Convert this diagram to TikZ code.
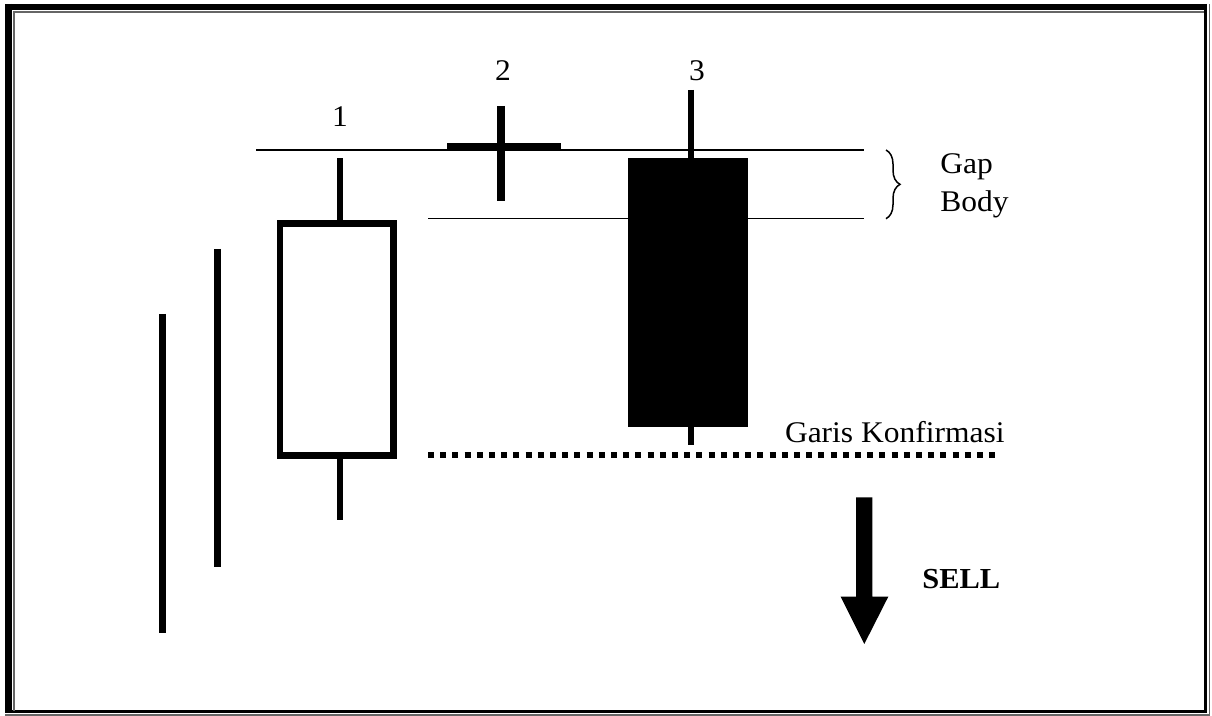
\documentclass[tikz,border=0pt]{standalone}
\usepackage{fontspec}
\setmainfont{Liberation Serif}
\usetikzlibrary{calc,decorations.pathreplacing}

\begin{document}
\begin{tikzpicture}[x=0.5pt,y=-0.5pt,
    txt/.style={inner sep=0pt,xscale=1.05,font=\fontsize{15}{17}\selectfont},
    num/.style={inner sep=0pt,xscale=1.05,font=\fontsize{15}{17}\selectfont},
    wick/.style={line width=3pt},
    guide/.style={line width=0.75pt}]
    \useasboundingbox (0,0) rectangle (1212,716);

    % frame
    \draw[line width=3.5pt] (8.5,4) -- (8.5,713);
    \draw[line width=3pt] (5,7) -- (1207,7);
    \draw[line width=1.5pt] (1205.5,4) -- (1205.5,713);
    \draw[line width=1.5pt] (5,712) -- (1207,712);
    \draw[line width=0.6pt,black!60] (14,711) -- (14,12) -- (1204,12);
    \draw[line width=0.6pt,black!60] (1209.5,4) -- (1209.5,715) -- (5,715);

    % trend
    \coordinate (L1) at (162,314);
    \coordinate (L2) at (217.3,249);
    \draw[line width=3.5pt] (L1) -- ++(0,318.7);
    \draw[line width=3.5pt] (L2) -- ++(0,318.3);

    % gap lines
    \coordinate (T1) at (256,150);
    \coordinate (T2) at (864,150);
    \coordinate (B1) at (428,218.7);
    \coordinate (B2) at (864,218.7);
    \draw[guide] (T1) -- (T2);
    \draw[guide] (B1) -- (B2);
    \draw[guide,decorate,decoration={brace,amplitude=7pt}] (886,150) -- (886,218.7);

    % candle 1
    \draw[line width=3.25pt] (280,223.5) rectangle (393.5,455.5);
    \draw[wick] (339.7,158.5) -- (339.7,223.5);
    \draw[wick] (339.7,455.5) -- (339.7,520);

    % candle 2 (doji)
    \draw[line width=3.65pt] (447.3,146.3) -- (560.7,146.3);
    \draw[line width=3.65pt] (501,106) -- (501,201);

    % candle 3
    \fill (627.7,158.3) rectangle (748.3,426.7);
    \draw[wick] (691,90) -- (691,160);
    \draw[wick] (691,425) -- (691,445);

    % confirmation line
    \draw[line width=3.25pt,dash pattern=on 3pt off 3.1pt] (428,455) -- (998,455);

    % sell arrow
    \fill (856,497.3) -- (872.3,497.3) -- (872.3,596.7) -- (888.3,596.7)
        -- (864.3,644) -- (840.7,596.7) -- (856,596.7) -- cycle;

    \node[num,anchor=base] (n1) at (340,127) {1};
    \node[num,anchor=base] (n2) at (503,81) {2};
    \node[num,anchor=base] (n3) at (697,81) {3};
    \node[txt,anchor=base west] (gap) at (940,173.3) {Gap};
    \node[txt,anchor=base west] (body) at (940,212) {Body};
    \node[txt,anchor=base east] (konf) at (1005,443) {Garis Konfirmasi};
    \node[txt,anchor=base west,font=\fontsize{14.5}{17}\selectfont\bfseries] (sell) at (922,588.3) {SELL};
\end{tikzpicture}
\end{document}
